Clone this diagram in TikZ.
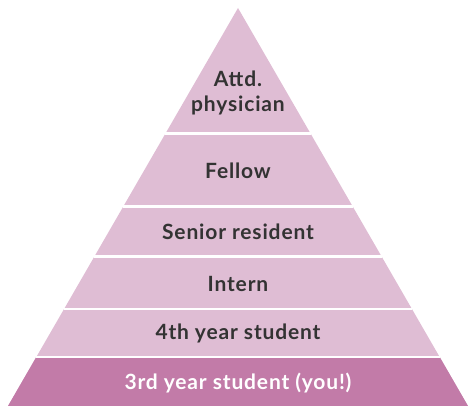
\documentclass[tikz,border=0pt]{standalone}
\usepackage{fontspec}
\setmainfont{Lato}[LetterSpace=4.0]
\usetikzlibrary{calc}
\definecolor{lightpink}{HTML}{DFBDD4}
\definecolor{darkpink}{HTML}{C27BA8}
\definecolor{textdark}{HTML}{333333}
\begin{document}
\begin{tikzpicture}[x=1pt,y=-1pt,
  lbl/.style={font=\fontsize{21}{24.5}\selectfont\bfseries, text=textdark, align=center, inner sep=0pt},
  sep/.style={white, line width=2.2pt}]
\useasboundingbox (0,0) rectangle (468,406);
\coordinate (apex) at (238,8);
\coordinate (bl) at (8,406);
\coordinate (br) at (468,406);
% triangle
\fill[lightpink] (apex) -- (br) -- (bl) -- cycle;
% bottom band
\fill[darkpink] ($(apex)!{(357-8)/398}!(bl)$) -- ($(apex)!{(357-8)/398}!(br)$) -- (br) -- (bl) -- cycle;
% separators
\foreach \yy in {133.5,206.5,256.5,309,357}{
  \draw[sep] ($(apex)!{(\yy-8)/398}!(bl)$) -- ($(apex)!{(\yy-8)/398}!(br)$);
}
\node[lbl] (attd) at (238,93) {Attd.\\physician};
\node[lbl] (fellow) at (238,171) {Fellow};
\node[lbl] (senior) at (238,232) {Senior resident};
\node[lbl] (intern) at (238,284) {Intern};
\node[lbl] (fourth) at (238,333) {4th year student};
\node[lbl, text=white] (third) at (238,383) {3rd year student (you!)};
\end{tikzpicture}
\end{document}
